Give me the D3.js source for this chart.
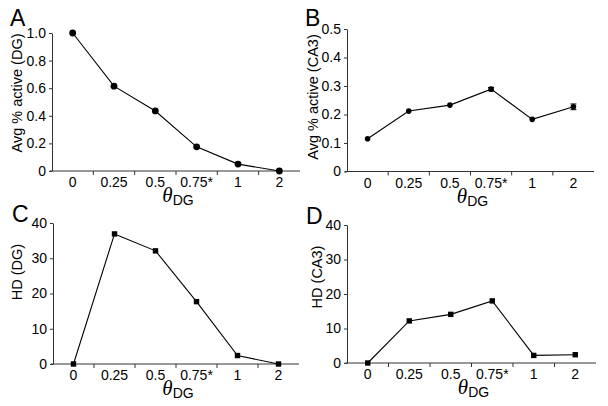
<!DOCTYPE html>
<html>
<head>
<meta charset="utf-8">
<script src="https://cdn.jsdelivr.net/npm/d3@7"></script>
<style>
  body { margin: 0; background: #fff; }
  text { font-family: "Liberation Sans", Arial, sans-serif; fill: #000; }
</style>
</head>
<body>
<div id="chart"></div>
<script>
// categories (theta_DG)
var thetaLabels = ["0", "0.25", "0.5", "0.75*", "1", "2"];

// series values
var activeDG = [1.0, 0.615, 0.435, 0.175, 0.05, 0.0];
var activeCA3 = [0.115, 0.212, 0.233, 0.289, 0.183, 0.227];
var activeCA3Err = [0, 0, 0, 0.006, 0, 0.01];
var hdDG = [0, 36.9, 32.1, 17.7, 2.4, 0];
var hdCA3 = [0, 12.2, 14.1, 18.0, 2.2, 2.4];

// tick values
var ticksA = [0, 0.2, 0.4, 0.6, 0.8, 1.0];
var ticksB = [0, 0.1, 0.2, 0.3, 0.4, 0.5];
var ticksHD = [0, 10, 20, 30, 40];

var svg = d3.select("#chart")
    .append("svg")
    .attr("width", 608)
    .attr("height", 406);

var panels = [
  { letter: "A", lx: 10, ly: 26, values: activeDG, ticks: ticksA, max: 1.0,
    x0: 52, x1: 300, yBase: 171, yTop: 33, ylabel: "Avg % active (DG)", labX: 22, labY: 93,
    fmt: function (d) { return d === 0 ? "0" : d3.format(".1f")(d); }, shape: "circle", r: 3.4 },
  { letter: "B", lx: 305, ly: 26, values: activeCA3, err: activeCA3Err, ticks: ticksB, max: 0.5,
    x0: 347, x1: 594, yBase: 171.5, yTop: 29, ylabel: "Avg % active (CA3)", labX: 318, labY: 97,
    fmt: function (d) { return d === 0 ? "0" : d3.format(".1f")(d); }, shape: "circle", r: 2.8 },
  { letter: "C", lx: 12, ly: 222, values: hdDG, ticks: ticksHD, max: 40,
    x0: 53, x1: 299, yBase: 364, yTop: 223, ylabel: "HD (DG)", labX: 22, labY: 272,
    fmt: d3.format("d"), shape: "square", r: 2.7 },
  { letter: "D", lx: 306, ly: 224, values: hdCA3, ticks: ticksHD, max: 40,
    x0: 347, x1: 596, yBase: 363, yTop: 225, ylabel: "HD (CA3)", labX: 322, labY: 277,
    fmt: d3.format("d"), shape: "square", r: 2.7 }
];

panels.forEach(function (p) {
  var g = svg.append("g");

  var x = d3.scaleBand()
      .domain(thetaLabels)
      .range([p.x0, p.x1])
      .padding(0);

  var y = d3.scaleLinear()
      .domain([0, p.max])
      .range([p.yBase, p.yTop]);

  // panel letter
  g.append("text")
      .attr("x", p.lx)
      .attr("y", p.ly)
      .style("font-size", "23px")
      .text(p.letter);

  // Y axis
  var yAxis = g.append("g")
      .attr("transform", "translate(" + p.x0 + ",0)")
      .call(d3.axisLeft(y).tickValues(p.ticks).tickFormat(p.fmt).tickSize(3).tickSizeOuter(0).tickPadding(3));
  yAxis.select(".domain").attr("stroke", "#333");
  yAxis.selectAll(".tick line").attr("stroke", "#333");
  yAxis.selectAll(".tick text").style("font-size", "14px").style("font-family", "Liberation Sans, Arial, sans-serif").attr("fill", "#000");

  // X axis line + boundary ticks
  var xg = g.append("g");
  xg.append("line")
      .attr("x1", p.x0 - 2).attr("x2", p.x1)
      .attr("y1", p.yBase).attr("y2", p.yBase)
      .attr("stroke", "#333");
  xg.selectAll(".bt")
      .data(thetaLabels.slice(1))
      .enter()
      .append("line")
      .attr("x1", function (d) { return x(d); })
      .attr("x2", function (d) { return x(d); })
      .attr("y1", p.yBase).attr("y2", p.yBase + 4)
      .attr("stroke", "#333");
  xg.selectAll(".lbl")
      .data(thetaLabels)
      .enter()
      .append("text")
      .attr("x", function (d) { return x(d) + x.bandwidth() / 2; })
      .attr("y", p.yBase + 16)
      .attr("text-anchor", "middle")
      .style("font-size", "14px")
      .text(function (d) { return d; });

  // X axis label (theta_DG)
  var cx = (p.x0 + p.x1) / 2 + 2;
  var xl = g.append("text")
      .attr("x", cx)
      .attr("y", p.yBase + 31)
      .attr("text-anchor", "middle");
  xl.append("tspan")
      .style("font-family", "Liberation Serif, Times New Roman, serif")
      .style("font-style", "italic")
      .style("font-size", "21px")
      .text("\u03B8");
  xl.append("tspan")
      .attr("dy", 3)
      .style("font-size", "14px")
      .text("DG");

  // Y axis label
  g.append("text")
      .attr("transform", "translate(" + p.labX + "," + p.labY + ") rotate(-90)")
      .attr("text-anchor", "middle")
      .style("font-size", "14.5px")
      .text(p.ylabel);

  var pts = p.values.map(function (v, i) { return { c: thetaLabels[i], v: v, e: p.err ? p.err[i] : 0 }; });
  var px = function (d) { return x(d.c) + x.bandwidth() / 2; };

  // line
  g.append("path")
      .datum(pts)
      .attr("fill", "none")
      .attr("stroke", "#000")
      .attr("stroke-width", 1.1)
      .attr("d", d3.line().x(px).y(function (d) { return y(d.v); }));

  // error bars
  g.selectAll(".err")
      .data(pts.filter(function (d) { return d.e > 0; }))
      .enter()
      .append("path")
      .attr("fill", "none")
      .attr("stroke", "#000")
      .attr("stroke-width", 1)
      .attr("d", function (d) {
        var xx = px(d), a = y(d.v + d.e), b = y(d.v - d.e);
        return "M" + (xx - 3) + "," + a + "H" + (xx + 3) + "M" + xx + "," + a + "V" + b + "M" + (xx - 3) + "," + b + "H" + (xx + 3);
      });

  // markers
  if (p.shape === "circle") {
    g.selectAll(".pt")
        .data(pts)
        .enter()
        .append("circle")
        .attr("cx", px)
        .attr("cy", function (d) { return y(d.v); })
        .attr("r", p.r)
        .attr("fill", "#000");
  } else {
    g.selectAll(".pt")
        .data(pts)
        .enter()
        .append("rect")
        .attr("x", function (d) { return px(d) - p.r; })
        .attr("y", function (d) { return y(d.v) - p.r; })
        .attr("width", p.r * 2)
        .attr("height", p.r * 2)
        .attr("fill", "#000");
  }
});
</script>
</body>
</html>
